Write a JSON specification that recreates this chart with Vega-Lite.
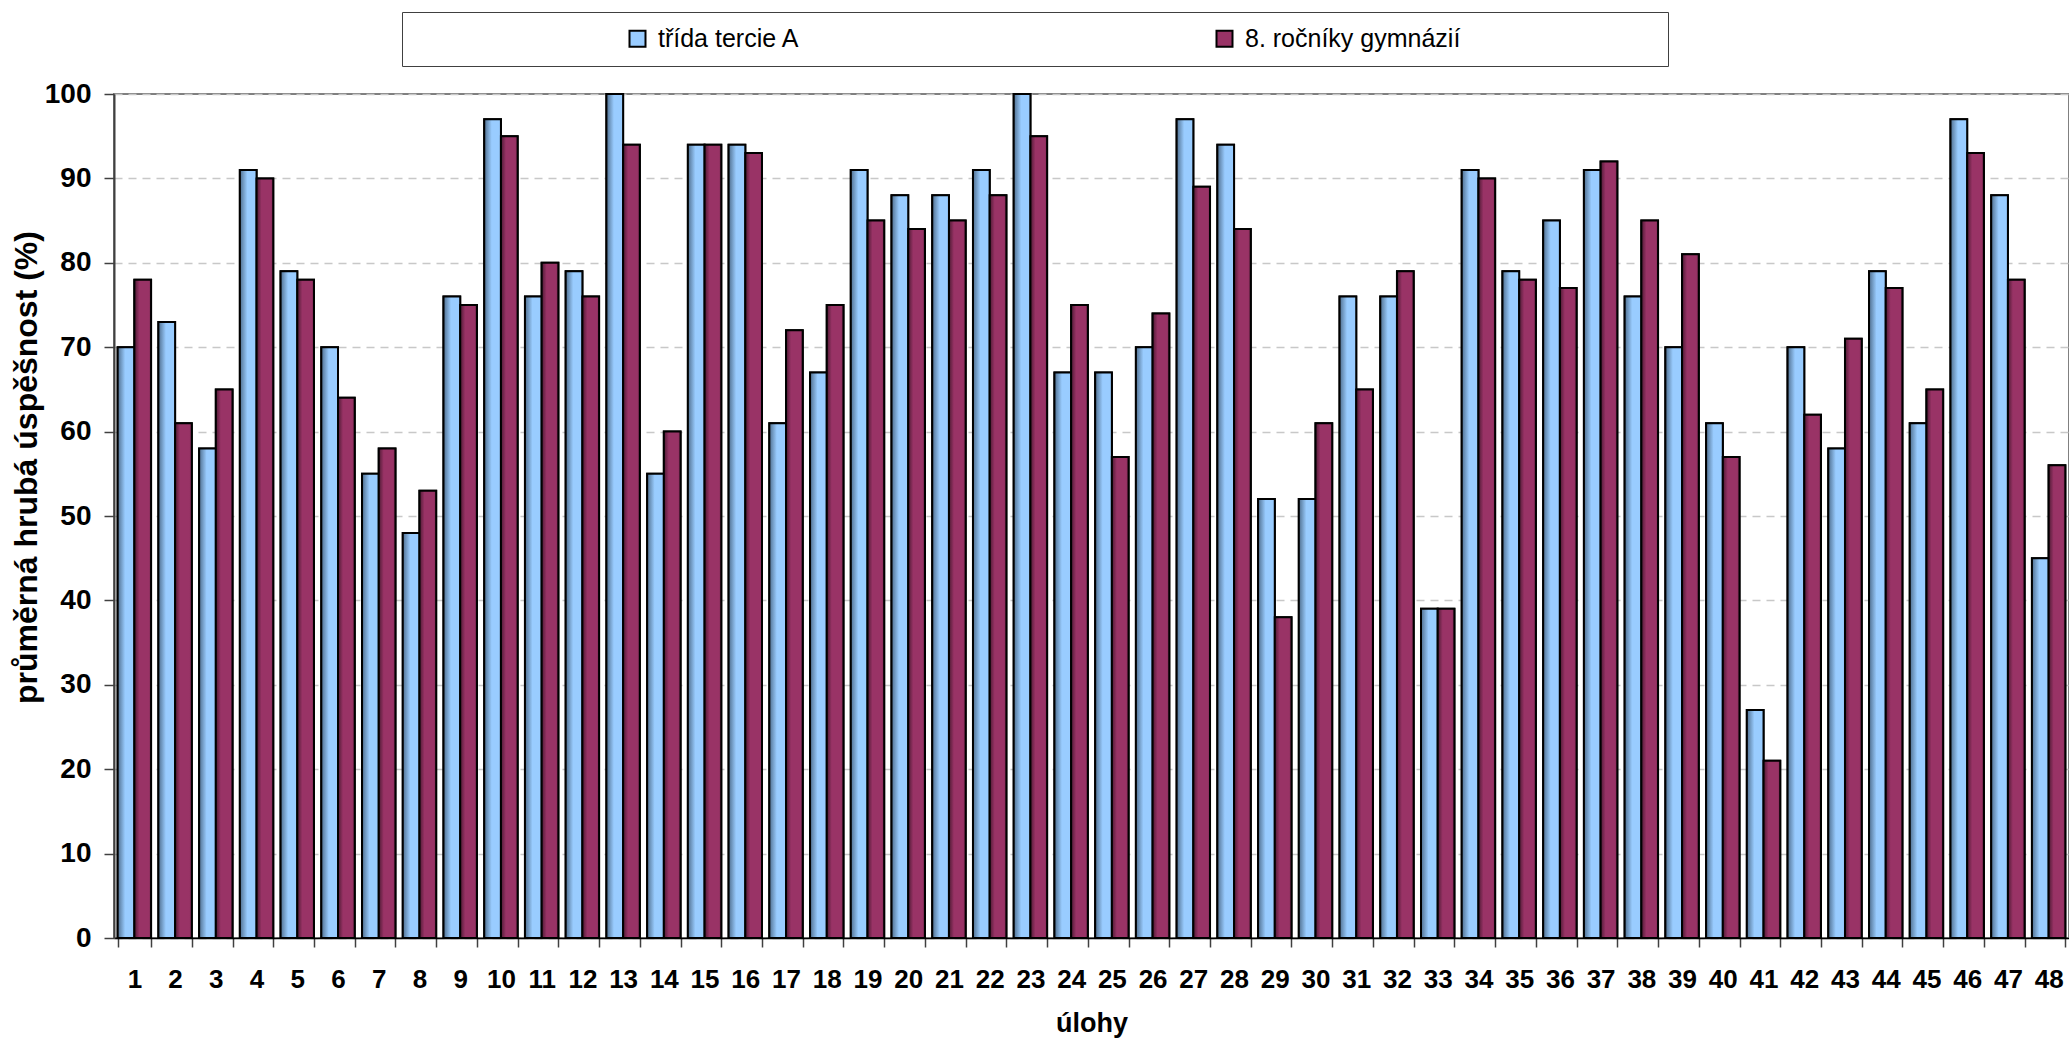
{
  "$schema": "https://vega.github.io/schema/vega-lite/v6.json",
  "width": 1955,
  "height": 844,
  "autosize": {"type": "none"},
  "padding": {"left": 114, "top": 94, "right": 0, "bottom": 102},
  "background": "white",
  "config": {
    "font": "Liberation Sans",
    "view": {"stroke": "#808080", "strokeWidth": 2}
  },
  "datasets": {
    "vysledky": [
      {"uloha": 1, "skupina": "třída  tercie A", "hodnota": 70}, {"uloha": 1, "skupina": "8. ročníky gymnázií", "hodnota": 78},
      {"uloha": 2, "skupina": "třída  tercie A", "hodnota": 73}, {"uloha": 2, "skupina": "8. ročníky gymnázií", "hodnota": 61},
      {"uloha": 3, "skupina": "třída  tercie A", "hodnota": 58}, {"uloha": 3, "skupina": "8. ročníky gymnázií", "hodnota": 65},
      {"uloha": 4, "skupina": "třída  tercie A", "hodnota": 91}, {"uloha": 4, "skupina": "8. ročníky gymnázií", "hodnota": 90},
      {"uloha": 5, "skupina": "třída  tercie A", "hodnota": 79}, {"uloha": 5, "skupina": "8. ročníky gymnázií", "hodnota": 78},
      {"uloha": 6, "skupina": "třída  tercie A", "hodnota": 70}, {"uloha": 6, "skupina": "8. ročníky gymnázií", "hodnota": 64},
      {"uloha": 7, "skupina": "třída  tercie A", "hodnota": 55}, {"uloha": 7, "skupina": "8. ročníky gymnázií", "hodnota": 58},
      {"uloha": 8, "skupina": "třída  tercie A", "hodnota": 48}, {"uloha": 8, "skupina": "8. ročníky gymnázií", "hodnota": 53},
      {"uloha": 9, "skupina": "třída  tercie A", "hodnota": 76}, {"uloha": 9, "skupina": "8. ročníky gymnázií", "hodnota": 75},
      {"uloha": 10, "skupina": "třída  tercie A", "hodnota": 97}, {"uloha": 10, "skupina": "8. ročníky gymnázií", "hodnota": 95},
      {"uloha": 11, "skupina": "třída  tercie A", "hodnota": 76}, {"uloha": 11, "skupina": "8. ročníky gymnázií", "hodnota": 80},
      {"uloha": 12, "skupina": "třída  tercie A", "hodnota": 79}, {"uloha": 12, "skupina": "8. ročníky gymnázií", "hodnota": 76},
      {"uloha": 13, "skupina": "třída  tercie A", "hodnota": 100}, {"uloha": 13, "skupina": "8. ročníky gymnázií", "hodnota": 94},
      {"uloha": 14, "skupina": "třída  tercie A", "hodnota": 55}, {"uloha": 14, "skupina": "8. ročníky gymnázií", "hodnota": 60},
      {"uloha": 15, "skupina": "třída  tercie A", "hodnota": 94}, {"uloha": 15, "skupina": "8. ročníky gymnázií", "hodnota": 94},
      {"uloha": 16, "skupina": "třída  tercie A", "hodnota": 94}, {"uloha": 16, "skupina": "8. ročníky gymnázií", "hodnota": 93},
      {"uloha": 17, "skupina": "třída  tercie A", "hodnota": 61}, {"uloha": 17, "skupina": "8. ročníky gymnázií", "hodnota": 72},
      {"uloha": 18, "skupina": "třída  tercie A", "hodnota": 67}, {"uloha": 18, "skupina": "8. ročníky gymnázií", "hodnota": 75},
      {"uloha": 19, "skupina": "třída  tercie A", "hodnota": 91}, {"uloha": 19, "skupina": "8. ročníky gymnázií", "hodnota": 85},
      {"uloha": 20, "skupina": "třída  tercie A", "hodnota": 88}, {"uloha": 20, "skupina": "8. ročníky gymnázií", "hodnota": 84},
      {"uloha": 21, "skupina": "třída  tercie A", "hodnota": 88}, {"uloha": 21, "skupina": "8. ročníky gymnázií", "hodnota": 85},
      {"uloha": 22, "skupina": "třída  tercie A", "hodnota": 91}, {"uloha": 22, "skupina": "8. ročníky gymnázií", "hodnota": 88},
      {"uloha": 23, "skupina": "třída  tercie A", "hodnota": 100}, {"uloha": 23, "skupina": "8. ročníky gymnázií", "hodnota": 95},
      {"uloha": 24, "skupina": "třída  tercie A", "hodnota": 67}, {"uloha": 24, "skupina": "8. ročníky gymnázií", "hodnota": 75},
      {"uloha": 25, "skupina": "třída  tercie A", "hodnota": 67}, {"uloha": 25, "skupina": "8. ročníky gymnázií", "hodnota": 57},
      {"uloha": 26, "skupina": "třída  tercie A", "hodnota": 70}, {"uloha": 26, "skupina": "8. ročníky gymnázií", "hodnota": 74},
      {"uloha": 27, "skupina": "třída  tercie A", "hodnota": 97}, {"uloha": 27, "skupina": "8. ročníky gymnázií", "hodnota": 89},
      {"uloha": 28, "skupina": "třída  tercie A", "hodnota": 94}, {"uloha": 28, "skupina": "8. ročníky gymnázií", "hodnota": 84},
      {"uloha": 29, "skupina": "třída  tercie A", "hodnota": 52}, {"uloha": 29, "skupina": "8. ročníky gymnázií", "hodnota": 38},
      {"uloha": 30, "skupina": "třída  tercie A", "hodnota": 52}, {"uloha": 30, "skupina": "8. ročníky gymnázií", "hodnota": 61},
      {"uloha": 31, "skupina": "třída  tercie A", "hodnota": 76}, {"uloha": 31, "skupina": "8. ročníky gymnázií", "hodnota": 65},
      {"uloha": 32, "skupina": "třída  tercie A", "hodnota": 76}, {"uloha": 32, "skupina": "8. ročníky gymnázií", "hodnota": 79},
      {"uloha": 33, "skupina": "třída  tercie A", "hodnota": 39}, {"uloha": 33, "skupina": "8. ročníky gymnázií", "hodnota": 39},
      {"uloha": 34, "skupina": "třída  tercie A", "hodnota": 91}, {"uloha": 34, "skupina": "8. ročníky gymnázií", "hodnota": 90},
      {"uloha": 35, "skupina": "třída  tercie A", "hodnota": 79}, {"uloha": 35, "skupina": "8. ročníky gymnázií", "hodnota": 78},
      {"uloha": 36, "skupina": "třída  tercie A", "hodnota": 85}, {"uloha": 36, "skupina": "8. ročníky gymnázií", "hodnota": 77},
      {"uloha": 37, "skupina": "třída  tercie A", "hodnota": 91}, {"uloha": 37, "skupina": "8. ročníky gymnázií", "hodnota": 92},
      {"uloha": 38, "skupina": "třída  tercie A", "hodnota": 76}, {"uloha": 38, "skupina": "8. ročníky gymnázií", "hodnota": 85},
      {"uloha": 39, "skupina": "třída  tercie A", "hodnota": 70}, {"uloha": 39, "skupina": "8. ročníky gymnázií", "hodnota": 81},
      {"uloha": 40, "skupina": "třída  tercie A", "hodnota": 61}, {"uloha": 40, "skupina": "8. ročníky gymnázií", "hodnota": 57},
      {"uloha": 41, "skupina": "třída  tercie A", "hodnota": 27}, {"uloha": 41, "skupina": "8. ročníky gymnázií", "hodnota": 21},
      {"uloha": 42, "skupina": "třída  tercie A", "hodnota": 70}, {"uloha": 42, "skupina": "8. ročníky gymnázií", "hodnota": 62},
      {"uloha": 43, "skupina": "třída  tercie A", "hodnota": 58}, {"uloha": 43, "skupina": "8. ročníky gymnázií", "hodnota": 71},
      {"uloha": 44, "skupina": "třída  tercie A", "hodnota": 79}, {"uloha": 44, "skupina": "8. ročníky gymnázií", "hodnota": 77},
      {"uloha": 45, "skupina": "třída  tercie A", "hodnota": 61}, {"uloha": 45, "skupina": "8. ročníky gymnázií", "hodnota": 65},
      {"uloha": 46, "skupina": "třída  tercie A", "hodnota": 97}, {"uloha": 46, "skupina": "8. ročníky gymnázií", "hodnota": 93},
      {"uloha": 47, "skupina": "třída  tercie A", "hodnota": 88}, {"uloha": 47, "skupina": "8. ročníky gymnázií", "hodnota": 78},
      {"uloha": 48, "skupina": "třída  tercie A", "hodnota": 45}, {"uloha": 48, "skupina": "8. ročníky gymnázií", "hodnota": 56}
    ]
  },
  "data": {"name": "vysledky"},
  "encoding": {
    "x": {
      "field": "uloha",
      "type": "ordinal",
      "scale": {"paddingInner": 0.18, "paddingOuter": 0.09},
      "axis": {
        "title": "úlohy",
        "titleFontSize": 27,
        "titleFontWeight": "bold",
        "titleColor": "#000000",
        "titleBaseline": "alphabetic",
        "titleY": 93,
        "labelAngle": 0,
        "labelFontSize": 26,
        "labelFontWeight": "bold",
        "labelColor": "#000000",
        "labelBaseline": "alphabetic",
        "labelPadding": 40,
        "tickSize": 9,
        "tickBand": "extent",
        "tickColor": "#404040",
        "tickWidth": 1.5,
        "domainColor": "#000000",
        "domainWidth": 1.5,
        "grid": false
      }
    },
    "xOffset": {
      "field": "skupina",
      "type": "nominal",
      "sort": ["třída  tercie A", "8. ročníky gymnázií"],
      "scale": {"paddingInner": 0, "paddingOuter": 0}
    },
    "y": {
      "field": "hodnota",
      "type": "quantitative",
      "scale": {"domain": [0, 100], "nice": false},
      "axis": {
        "values": [0, 10, 20, 30, 40, 50, 60, 70, 80, 90, 100],
        "title": "průměrná hrubá úspěšnost (%)",
        "titleFontSize": 32,
        "titleFontWeight": "bold",
        "titleColor": "#000000",
        "titleAngle": 270,
        "titleAlign": "center",
        "titleBaseline": "alphabetic",
        "titleX": -78,
        "titleY": 373,
        "labelFontSize": 28,
        "labelFontWeight": "bold",
        "labelColor": "#000000",
        "labelPadding": 13,
        "tickSize": 10,
        "tickColor": "#404040",
        "tickWidth": 1.5,
        "domainColor": "#404040",
        "domainWidth": 2,
        "grid": true,
        "gridDash": [8, 6],
        "gridColor": "#c8c8c8",
        "gridWidth": 1.5
      }
    }
  },
  "layer": [
    {
      "mark": {"type": "bar", "stroke": "#000000", "strokeWidth": 2, "opacity": 1},
      "encoding": {
        "color": {
          "field": "skupina",
          "type": "nominal",
          "scale": {
            "domain": ["třída  tercie A", "8. ročníky gymnázií"],
            "range": ["#99ccff", "#993366"]
          },
          "legend": {
            "orient": "none",
            "legendX": 288,
            "legendY": -82,
            "direction": "horizontal",
            "title": "\u2800\u2003\u2003\u2003\u2003\u2003\u2003\u2003\u2800",
            "titleOrient": "left",
            "titleFontSize": 24,
            "titlePadding": 5,
            "titleLimit": 1000,
            "padding": 14,
            "strokeColor": "#404040",
            "fillColor": "#ffffff",
            "symbolType": "square",
            "symbolSize": 256,
            "symbolStrokeColor": "#000000",
            "symbolStrokeWidth": 2,
            "symbolOpacity": 1,
            "labelFontSize": 25,
            "labelColor": "#000000",
            "labelOffset": 8,
            "labelLimit": 1000,
            "columnPadding": 405,
            "labelExpr": "datum.label == '8. ročníky gymnázií' ? datum.label + '\u2003\u2003\u2003\u2003\u2003\u2003\u2003\u2800' : datum.label"
          }
        }
      }
    },
    {
      "mark": {"type": "bar", "stroke": "#000000", "strokeWidth": 2, "opacity": 1},
      "encoding": {
        "fill": {
          "condition": {
            "test": "datum.skupina == 'třída  tercie A'",
            "value": {"gradient": "linear", "x1": 0, "y1": 0, "x2": 1, "y2": 0, "stops": [
              {"offset": 0, "color": "#4f6e8e"},
              {"offset": 0.45, "color": "#99ccff"},
              {"offset": 1, "color": "#99ccff"}
            ]}
          },
          "value": {"gradient": "linear", "x1": 0, "y1": 0, "x2": 1, "y2": 0, "stops": [
            {"offset": 0, "color": "#4d1a33"},
            {"offset": 0.3, "color": "#993366"},
            {"offset": 0.85, "color": "#993366"},
            {"offset": 1, "color": "#7d2a53"}
          ]}
        }
      }
    }
  ]
}
